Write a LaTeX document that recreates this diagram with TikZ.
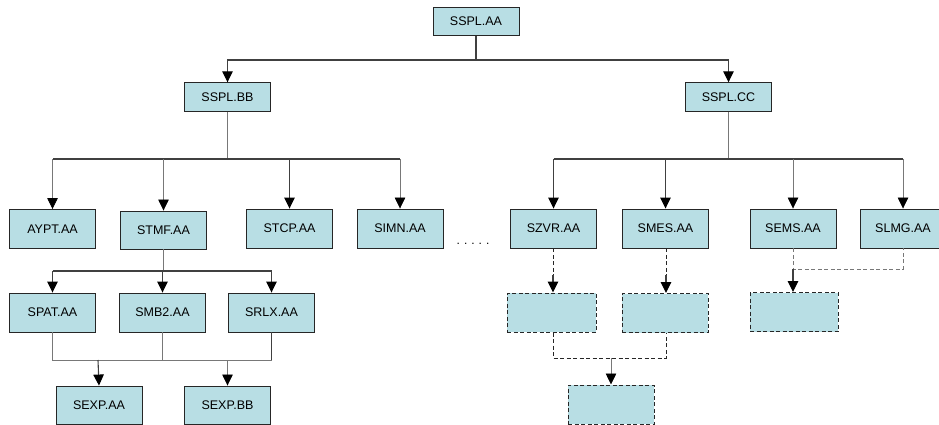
\documentclass[tikz,border=0pt]{standalone}
\usepackage{fontspec}
\setmainfont{Liberation Sans}
\usetikzlibrary{arrows.meta}
\definecolor{boxfill}{RGB}{184,222,228}
\definecolor{lgray}{RGB}{120,120,120}
\tikzset{
  box/.style={draw=black!85, line width=0.9pt, fill=boxfill, minimum width=86pt, minimum height=39pt, inner sep=0pt, font=\fontsize{12.5}{14}\selectfont},
  smallbox/.style={box, minimum height=28.5pt},
  dbox/.style={box, dashed, dash pattern=on 4pt off 2.5pt, line width=1pt},
  ln/.style={draw=black!75, line width=1.1pt},
  thin/.style={draw=lgray, line width=0.7pt},
  arr/.style={-{Triangle[width=10.5pt,length=11pt,color=black,fill=black]}},
  dln/.style={draw=black!85, line width=1pt, dash pattern=on 4pt off 2.5pt},
  gdln/.style={draw=lgray, line width=0.8pt, dash pattern=on 4pt off 2.5pt},
}
\begin{document}
\begin{tikzpicture}[x=1pt,y=-1pt]
\useasboundingbox (0,0) rectangle (939,425);
% nodes
\node[smallbox] (aa) at (476,21.5) {SSPL.AA};
\node[smallbox] (bb) at (227.5,97) {SSPL.BB};
\node[smallbox] (cc) at (728.5,97) {SSPL.CC};
\node[box] (aypt) at (52.5,229) {AYPT.AA};
\node[box, minimum height=38pt] (stmf) at (163.5,230) {STMF.AA};
\node[box] (stcp) at (289.5,228.5) {STCP.AA};
\node[box] (simn) at (400,228.5) {SIMN.AA};
\node[box] (szvr) at (553.5,228.5) {SZVR.AA};
\node[box] (smes) at (665.5,228.5) {SMES.AA};
\node[box] (sems) at (793,228.5) {SEMS.AA};
\node[box] (slmg) at (903,228.5) {SLMG.AA};
\node[box] (spat) at (52.5,312.5) {SPAT.AA};
\node[box] (smb2) at (162.5,312.5) {SMB2.AA};
\node[box] (srlx) at (271.5,312.5) {SRLX.AA};
\node[box, minimum height=38pt] (sexpaa) at (99,405) {SEXP.AA};
\node[box, minimum height=38pt] (sexpbb) at (227.5,405) {SEXP.BB};
\node[dbox, minimum width=89pt] (d1) at (551.5,312.5) {};
\node[dbox] (d2) at (665,313) {};
\node[dbox, minimum width=88pt] (d3) at (794,312) {};
\node[dbox] (d4) at (611,404.5) {};
\node[font=\fontsize{12}{14}\selectfont, anchor=base, inner sep=0pt] (dots) at (473,244) {.\hspace{4pt}.\hspace{4pt}.\hspace{4pt}.\hspace{4pt}.};
% junctions
\coordinate (j0) at (476,60);
\coordinate (j1) at (227.5,159);
\coordinate (j2) at (730,159);
\coordinate (j3) at (163.5,271);
\coordinate (j4) at (162.5,360);
\coordinate (j5) at (98,360);
\coordinate (j6) at (227.5,360);
\coordinate (j7) at (793,269);
\coordinate (j8) at (611,358);
\coordinate (k1) at (553,275);
\coordinate (k2) at (666,275);
% top level
\draw[ln] (aa) -- (j0);
\draw[ln,arr] (j0) -| (bb);
\draw[ln,arr] (j0) -| (cc);
% SSPL.BB children
\draw[thin] (bb) -- (j1);
\draw[ln] (j1) -- (aypt.north|-j1) (j1) -- (simn.north|-j1);
\draw[thin,arr] (aypt.north|-j1) -- (aypt.north);
\draw[thin,arr] (stmf.north|-j1) -- (stmf.north);
\draw[ln,arr] (stcp.north|-j1) -- (stcp.north);
\draw[thin,arr] (simn.north|-j1) -- (simn.north);
% SSPL.CC children
\draw[thin] (cc.south) -- (cc.south|-j2);
\draw[ln] (szvr.north|-j2) -- (slmg.north|-j2);
\draw[ln,arr] (szvr.north|-j2) -- (szvr.north);
\draw[ln,arr] (smes.north|-j2) -- (smes.north);
\draw[thin,arr] (sems.north|-j2) -- (sems.north);
\draw[thin,arr] (slmg.north|-j2) -- (slmg.north);
% STMF children
\draw[thin] (stmf) -- (j3);
\draw[ln] (spat.north|-j3) -- (srlx.north|-j3);
\draw[ln,arr] (spat.north|-j3) -- (spat.north);
\draw[ln,arr] (smb2.north|-j3) -- (smb2.north);
\draw[ln,arr] (srlx.north|-j3) -- (srlx.north);
% merge to SEXP
\draw[thin] (spat.south) -- (spat.south|-j4) -- (srlx.south|-j4);
\draw[thin] (smb2.south) -- (j4);
\draw[ln] (srlx.south) -- (srlx.south|-j4);
\draw[ln,arr] (j5) -- (sexpaa.north);
\draw[thin,arr] (j6) -- (sexpbb.north);
% dashed part
\draw[dln] (szvr.south-|k1) -- (k1);
\draw[ln,arr] (k1) -- (d1.north-|k1);
\draw[dln] (smes.south-|k2) -- (k2);
\draw[ln,arr] (k2) -- (d2.north-|k2);
\draw[gdln] (sems.south) -- (j7) -- (slmg.south|-j7) -- (slmg.south);
\draw[ln,arr] (j7) -- (d3.north-|j7);
\draw[dln] (d1.south-|k1) -- (k1|-j8) -- (k2|-j8) -- (d2.south-|k2);
\draw[thin,arr] (j8) -- (d4.north);
\end{tikzpicture}
\end{document}
